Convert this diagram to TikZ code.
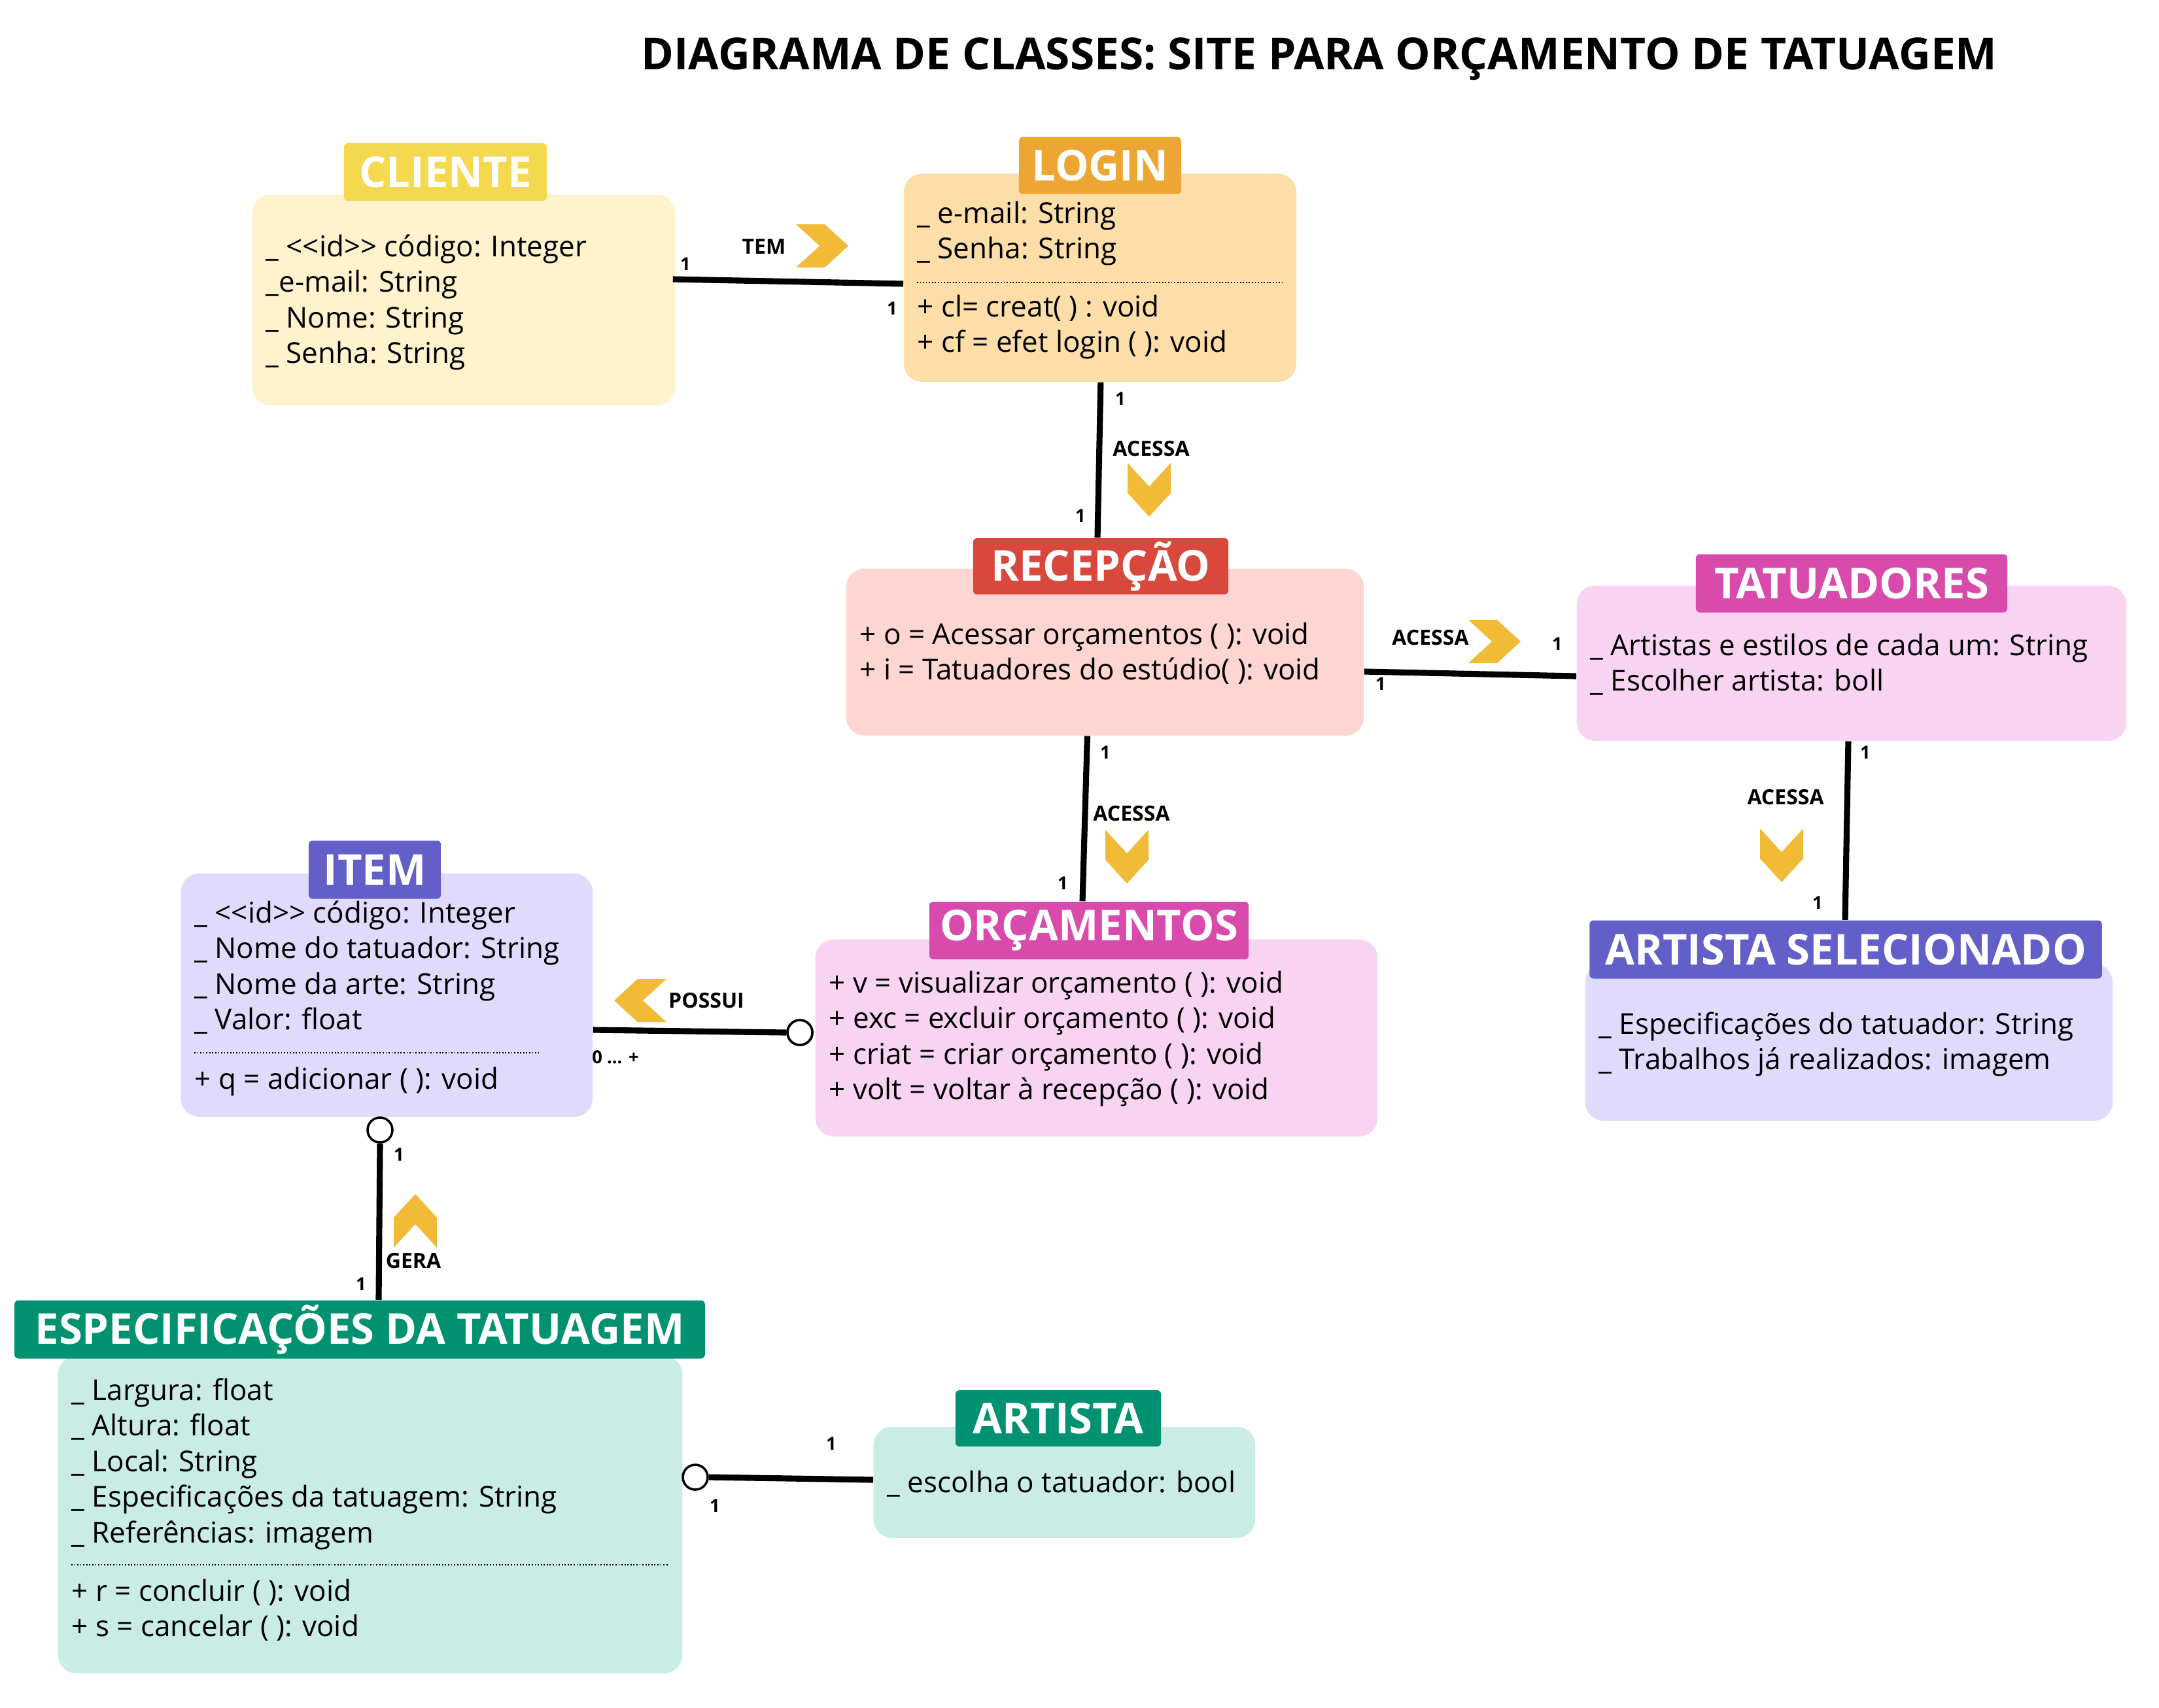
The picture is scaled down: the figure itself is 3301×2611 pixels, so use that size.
\documentclass[tikz,border=0pt]{standalone}
\usepackage{fontspec}
\setmainfont{Open Sans}
\usetikzlibrary{calc}

\definecolor{cliHead}{HTML}{F4D94E}
\definecolor{cliBody}{HTML}{FFF2CD}
\definecolor{logHead}{HTML}{EDA534}
\definecolor{logBody}{HTML}{FDDDA8}
\definecolor{recHead}{HTML}{D8483C}
\definecolor{recBody}{HTML}{FDD5D1}
\definecolor{magHead}{HTML}{D84AAB}
\definecolor{magBody}{HTML}{F8D3F2}
\definecolor{vioHead}{HTML}{6260C8}
\definecolor{vioBody}{HTML}{E0DBFD}
\definecolor{grnHead}{HTML}{009170}
\definecolor{grnBody}{HTML}{C9EDE4}
\definecolor{chev}{HTML}{F2BB37}

\newcommand\ltlt{<\kern0pt<}
\newcommand\gtgt{>\kern0pt>}

\tikzset{
  body/.style={rounded corners=0.28cm, inner sep=0, anchor=north west, draw=none},
  head/.style={rounded corners=0.06cm, inner sep=0, text=white,
    font=\fontsize{18.5}{22}\selectfont\bfseries},
  attr/.style={anchor=base west, inner sep=0, font=\fontsize{12.5}{15}\selectfont},
  mult/.style={inner sep=0, font=\fontsize{7.8}{9}\selectfont\bfseries},
  verb/.style={inner sep=0, font=\fontsize{9.1}{11}\selectfont\bfseries},
  assoc/.style={line width=2.6pt},
  sep/.style={line width=0.6pt, dash pattern=on 0.5pt off 0.8pt},
  hollow/.style={circle, draw, line width=1pt, fill=white, minimum size=0.38cm, inner sep=0},
  chevdown/.pic={\fill[chev] (-33,-41) -- (0,-5) -- (33,-41) -- (33,5) -- (0,41) -- (-33,5) -- cycle;},
  chevup/.pic={\fill[chev] (-33,41) -- (0,5) -- (33,41) -- (33,-5) -- (0,-41) -- (-33,-5) -- cycle;},
  chevright/.pic={\fill[chev] (-40,-33) -- (4,-33) -- (40,0) -- (4,33) -- (-40,33) -- (-4,0) -- cycle;},
  chevleft/.pic={\fill[chev] (40,-33) -- (-4,-33) -- (-40,0) -- (-4,33) -- (40,33) -- (4,0) -- cycle;},
}

\begin{document}
\begin{tikzpicture}[x=0.01cm, y=-0.01cm]
\fill[white] (0,0) rectangle (3301,2611);
\useasboundingbox (0,0) rectangle (3301,2611);

% title
\node[inner sep=0, font=\fontsize{19.2}{23}\selectfont\bfseries] (title) at (2017,90)
  {DIAGRAMA DE CLASSES: SITE PARA ORÇAMENTO DE TATUAGEM};

% ---------- class bodies ----------
\node[body, fill=cliBody, minimum width=6.46cm, minimum height=3.22cm] (cliente) at (385,297) {};
\node[body, fill=logBody, minimum width=6.00cm, minimum height=3.18cm] (login) at (1381,265) {};
\node[body, fill=recBody, minimum width=7.91cm, minimum height=2.55cm] (recepcao) at (1293,869) {};
\node[body, fill=magBody, minimum width=8.40cm, minimum height=2.37cm] (tatuadores) at (2410,895) {};
\node[body, fill=vioBody, minimum width=8.06cm, minimum height=2.40cm] (artsel) at (2423,1473) {};
\node[body, fill=magBody, minimum width=8.59cm, minimum height=3.01cm] (orcamentos) at (1246,1436) {};
\node[body, fill=vioBody, minimum width=6.29cm, minimum height=3.72cm] (item) at (276,1335) {};
\node[body, fill=grnBody, minimum width=9.54cm, minimum height=4.85cm] (espec) at (88,2073) {};
\node[body, fill=grnBody, minimum width=5.83cm, minimum height=1.70cm] (artista) at (1335,2181) {};

% ---------- class headers ----------
\node[head, fill=cliHead, minimum width=3.10cm, minimum height=0.88cm] (clihead) at (681,263) {CLIENTE};
\node[head, fill=logHead, minimum width=2.48cm, minimum height=0.87cm] (loghead) at (1682,253) {LOGIN};
\node[head, fill=recHead, minimum width=3.90cm, minimum height=0.86cm] (rechead) at (1683,866) {RECEPÇÃO};
\node[head, fill=magHead, minimum width=4.76cm, minimum height=0.89cm] (tathead) at (2831,892) {TATUADORES};
\node[head, fill=vioHead, minimum width=7.83cm, minimum height=0.89cm] (arthead) at (2822,1452) {ARTISTA SELECIONADO};
\node[head, fill=magHead, minimum width=4.88cm, minimum height=0.88cm] (orchead) at (1665,1423) {ORÇAMENTOS};
\node[head, fill=vioHead, minimum width=2.02cm, minimum height=0.89cm] (itemhead) at (573,1330) {ITEM};
\node[head, fill=grnHead, minimum width=10.55cm, minimum height=0.89cm] (esphead) at (550,2033) {ESPECIFICAÇÕES DA TATUAGEM};
\node[head, fill=grnHead, minimum width=3.14cm, minimum height=0.86cm] (artihead) at (1618,2169) {ARTISTA};

% ---------- attributes and operations ----------
\foreach \t [count=\i] in {{\_ \ltlt id\gtgt{} código: Integer}, {\_e-mail: String}, {\_ Nome: String}, {\_ Senha: String}}
  \node[attr] (cli-\i) at (406, 392+54.6*\i-54.6) {\t};

\foreach \t [count=\i] in {{\_ e-mail: String}, {\_ Senha: String}}
  \node[attr] (log-a\i) at (1402, 341+54.6*\i-54.6) {\t};
\draw[sep] ($(login.north west)+(21,167)$) -- ($(login.north east)+(-23,167)$);
\foreach \t [count=\i] in {{+ cl= creat( ) : void}, {+ cf = efet login ( ): void}}
  \node[attr] (log-o\i) at (1402, 484+54.6*\i-54.6) {\t};

\foreach \t [count=\i] in {{+ o = Acessar orçamentos ( ): void}, {+ i = Tatuadores do estúdio( ): void}}
  \node[attr] (rec-\i) at (1314, 985+54.6*\i-54.6) {\t};

\foreach \t [count=\i] in {{\_ Artistas e estilos de cada um: String}, {\_ Escolher artista: boll}}
  \node[attr] (tat-\i) at (2431, 1002+54.6*\i-54.6) {\t};

\foreach \t [count=\i] in {{\_ Especificações do tatuador: String}, {\_ Trabalhos já realizados: imagem}}
  \node[attr] (sel-\i) at (2444, 1581+54.6*\i-54.6) {\t};

\foreach \t [count=\i] in {{+ v = visualizar orçamento ( ): void}, {+ exc = excluir orçamento ( ): void},
    {+ criat = criar orçamento ( ): void}, {+ volt = voltar à recepção ( ): void}}
  \node[attr] (orc-\i) at (1267, 1518+54.6*\i-54.6) {\t};

\foreach \t [count=\i] in {{\_ \ltlt id\gtgt{} código: Integer}, {\_ Nome do tatuador: String},
    {\_ Nome da arte: String}, {\_ Valor: float}}
  \node[attr] (item-a\i) at (297, 1411+54.6*\i-54.6) {\t};
\draw[sep] ($(item.north west)+(21,275)$) -- ($(item.north west)+(547,275)$);
\node[attr] (item-o1) at (297,1665) {+ q = adicionar ( ): void};

\foreach \t [count=\i] in {{\_ Largura: float}, {\_ Altura: float}, {\_ Local: String},
    {\_ Especificações da tatuagem: String}, {\_ Referências: imagem}}
  \node[attr] (esp-a\i) at (109, 2141+54.6*\i-54.6) {\t};
\draw[sep] ($(espec.north west)+(21,320)$) -- ($(espec.north east)+(-23,320)$);
\foreach \t [count=\i] in {{+ r = concluir ( ): void}, {+ s = cancelar ( ): void}}
  \node[attr] (esp-o\i) at (109, 2448+54.6*\i-54.6) {\t};

\node[attr] (art-1) at (1356,2282) {\_ escolha o tatuador: bool};

% ---------- associations ----------
\draw[assoc] ($(cliente.north east)+(-4,130)$) -- ($(login.north west)+(0,169)$);
\draw[assoc] ($(login.south)+(1,0)$) -- ($(rechead.north)+(-5,0)$);
\draw[assoc] ($(recepcao.north east)+(0,158)$) -- ($(tatuadores.north west)+(0,139)$);
\draw[assoc] ($(tatuadores.south)+(-5,0)$) -- ($(arthead.north)+(-1,0)$);
\draw[assoc] ($(recepcao.south)+(-27,0)$) -- ($(orchead.north)+(-10,0)$);

\node[hollow] (oc1) at (1223,1579) {};
\draw[assoc] ($(item.north east)+(0,240)$) -- (oc1.west);
\node[hollow] at (oc1) {};

\node[hollow] (oc2) at (581,1728) {};
\draw[assoc] (oc2.south) -- ($(esphead.north)+(29,0)$);

\node[hollow] (oc3) at (1063,2259) {};
\draw[assoc] (oc3.east) -- ($(artista.north west)+(0,82)$);

% ---------- direction markers and verbs ----------
\node[verb] (v-tem) at (1168,377) {TEM};
\pic at (1257,376) {chevright};
\node[verb] (v-acc1) at (1760,686) {ACESSA};
\pic at (1757,749) {chevdown};
\node[verb] (v-acc2) at (2187,975) {ACESSA};
\pic at (2285,981) {chevright};
\node[verb] (v-acc3) at (2730,1219) {ACESSA};
\pic at (2724,1308) {chevdown};
\node[verb] (v-acc4) at (1730,1244) {ACESSA};
\pic at (1723,1310) {chevdown};
\node[verb] (v-pos) at (1080,1530) {POSSUI};
\pic at (979,1530) {chevleft};
\node[verb] (v-gera) at (632,1928) {GERA};
\pic at (635,1867) {chevup};
\node[mult] (m-many) at (941,1617) {0 ... +};

% ---------- multiplicities ----------
\node[mult] (m1) at (1048,404) {1};
\node[mult] (m2) at (1364,472) {1};
\node[mult] (m3) at (1713,610) {1};
\node[mult] (m4) at (1652,789) {1};
\node[mult] (m5) at (2111,1046) {1};
\node[mult] (m6) at (2381,985) {1};
\node[mult] (m7) at (2852,1151) {1};
\node[mult] (m8) at (2779,1381) {1};
\node[mult] (m9) at (1690,1151) {1};
\node[mult] (m10) at (1625,1351) {1};
\node[mult] (m11) at (610,1766) {1};
\node[mult] (m12) at (552,1964) {1};
\node[mult] (m13) at (1271,2208) {1};
\node[mult] (m14) at (1093,2303) {1};
\end{tikzpicture}
\end{document}
